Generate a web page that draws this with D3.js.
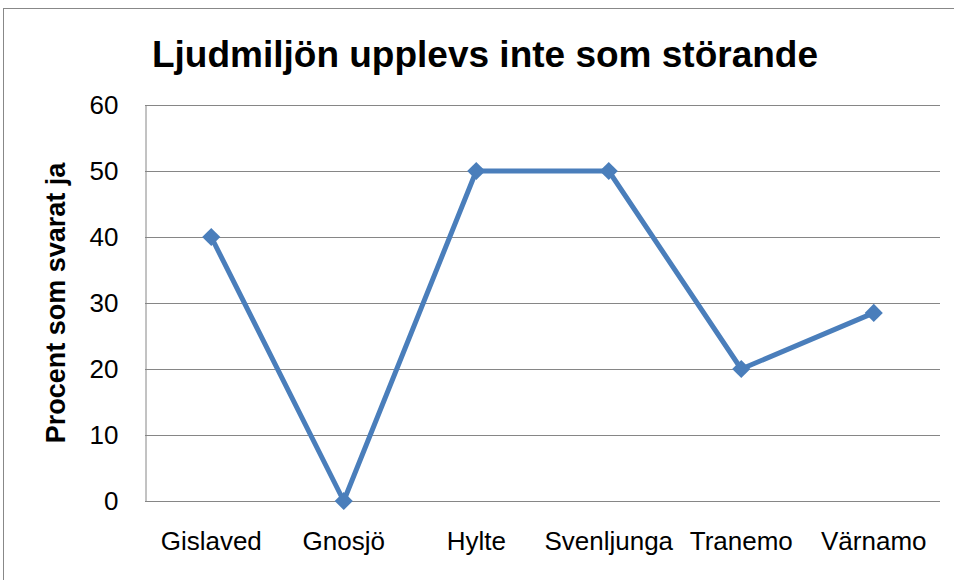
<!DOCTYPE html>
<html>
<head>
<meta charset="utf-8">
<script src="https://cdn.jsdelivr.net/npm/d3@7"></script>
<style>
  body { margin: 0; background: #fff; }
  text { font-family: "Liberation Sans", Arial, sans-serif; }
</style>
</head>
<body>
<div class="root"></div>
<script>
const width = 954;
const height = 580;

const categories = ["Gislaved", "Gnosjö", "Hylte", "Svenljunga", "Tranemo", "Värnamo"];
const values = [40, 0, 50, 50, 20, 28.5];
const yTicks = [0, 10, 20, 30, 40, 50, 60];

const margin = { top: 105, right: 14, bottom: 79, left: 145 };

const svg = d3
  .select(".root")
  .append("svg")
  .attr("width", width)
  .attr("height", height);

// outer chart frame
svg
  .append("rect")
  .attr("x", 3.5)
  .attr("y", 8.5)
  .attr("width", width)
  .attr("height", height)
  .attr("fill", "none")
  .attr("stroke", "#888");

const x = d3
  .scaleBand()
  .domain(categories)
  .range([margin.left, width - margin.right]);

const y = d3
  .scaleLinear()
  .domain([0, 60])
  .range([height - margin.bottom, margin.top]);

// gridlines
svg
  .append("g")
  .selectAll("line")
  .data(yTicks)
  .join("line")
  .attr("x1", margin.left)
  .attr("x2", width - margin.right)
  .attr("y1", (d) => Math.round(y(d)) + 0.5)
  .attr("y2", (d) => Math.round(y(d)) + 0.5)
  .attr("stroke", "#868686");

// y axis
const yAxis = svg
  .append("g")
  .attr("transform", `translate(${margin.left + 0.5},0)`)
  .call(d3.axisLeft(y).tickValues(yTicks).tickSize(0).tickPadding(27));
yAxis.select(".domain").attr("stroke", "#868686");
yAxis.selectAll("text").attr("font-size", 26).attr("fill", "#000");

// x axis labels
const xAxis = svg
  .append("g")
  .attr("transform", `translate(0,${height - margin.bottom})`)
  .call(d3.axisBottom(x).tickSize(0).tickPadding(31));
xAxis.select(".domain").remove();
xAxis.selectAll("text").attr("font-size", 26).attr("fill", "#000");

// title
svg
  .append("text")
  .attr("x", 485)
  .attr("y", 67)
  .attr("text-anchor", "middle")
  .attr("font-size", 37)
  .attr("font-weight", "bold")
  .text("Ljudmiljön upplevs inte som störande");

// y label
svg
  .append("text")
  .attr("transform", "translate(65,303) rotate(-90)")
  .attr("text-anchor", "middle")
  .attr("font-size", 27)
  .attr("font-weight", "bold")
  .text("Procent som svarat ja");

const cx = (d, i) => x(categories[i]) + x.bandwidth() / 2;

svg
  .append("path")
  .datum(values)
  .attr("fill", "none")
  .attr("stroke", "#4a7ebb")
  .attr("stroke-width", 5)
  .attr("stroke-linejoin", "round")
  .attr("d", d3.line().x(cx).y((d) => y(d)));

svg
  .append("g")
  .selectAll("path")
  .data(values)
  .join("path")
  .attr("transform", (d, i) => `translate(${cx(d, i)},${y(d)})`)
  .attr("d", d3.symbol(d3.symbolDiamond2, 210))
  .attr("fill", "#4a7ebb");
</script>
</body>
</html>
